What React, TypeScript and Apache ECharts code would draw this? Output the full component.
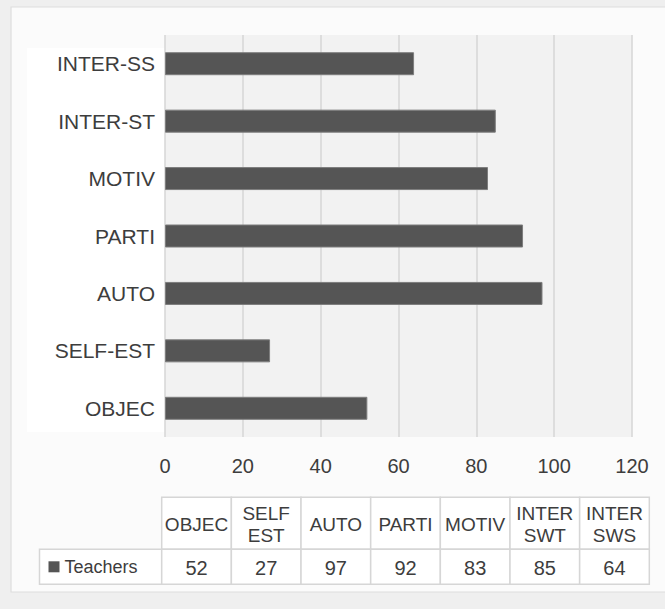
import React, { useEffect, useRef } from "react";
import * as echarts from "echarts";

const categories = ["OBJEC", "SELF-EST", "AUTO", "PARTI", "MOTIV", "INTER-ST", "INTER-SS"];
const teacherValues = [52, 27, 97, 92, 83, 85, 64];
const tableHeaders = ["OBJEC", "SELF\nEST", "AUTO", "PARTI", "MOTIV", "INTER\nSWT", "INTER\nSWS"];
const seriesName = "Teachers";
const xTicks = { min: 0, max: 120, interval: 20 };

const FONT = "'Liberation Sans', Arial, Helvetica, sans-serif";
const TEXT = "#3d3d3d";

export default function App() {
  const ref = useRef<HTMLDivElement>(null);
  useEffect(() => {
    if (!ref.current) return;
    const chart = echarts.init(ref.current, null, { renderer: "svg" });

    const tableX0 = 39.5;
    const labelW = 122.2;
    const cellW = 69.66;
    const hTop = 497.3;
    const hH = 52;
    const dH = 35;
    const cellsX = tableX0 + labelW;
    const border = "#d6d6d6";

    const graphics: any[] = [
      { type: "rect", z: -10, shape: { x: 0, y: 0, width: 665, height: 609 }, style: { fill: "#efefef" }, silent: true },
      { type: "rect", z: -9, shape: { x: 11, y: 7, width: 660, height: 585 }, style: { fill: "#fbfbfb", stroke: "#dedede", lineWidth: 1.2 }, silent: true },
      { type: "rect", z: -8, shape: { x: 27, y: 48, width: 138, height: 384 }, style: { fill: "#ffffff" }, silent: true },
    ];

    tableHeaders.forEach((h, i) => {
      const x = cellsX + i * cellW;
      graphics.push({
        type: "rect",
        shape: { x, y: hTop, width: cellW, height: hH },
        style: { fill: "#ffffff", stroke: border, lineWidth: 1.5 },
        silent: true,
      });
      graphics.push({
        type: "text",
        x: x + cellW / 2,
        y: hTop + hH / 2 + 1,
        style: {
          text: h,
          fill: TEXT,
          font: `19px ${FONT}`,
          lineHeight: 22,
          align: "center",
          verticalAlign: "middle",
        },
        silent: true,
      });
    });
    graphics.push({
      type: "rect",
      shape: { x: tableX0, y: hTop + hH, width: labelW, height: dH },
      style: { fill: "#ffffff", stroke: border, lineWidth: 1.5 },
      silent: true,
    });
    graphics.push({
      type: "rect",
      shape: { x: tableX0 + 9, y: hTop + hH + 12, width: 11, height: 11 },
      style: { fill: "#555555" },
      silent: true,
    });
    graphics.push({
      type: "text",
      x: tableX0 + 25,
      y: hTop + hH + dH / 2,
      style: { text: seriesName, fill: TEXT, font: `18px ${FONT}`, align: "left", verticalAlign: "middle" },
      silent: true,
    });
    teacherValues.forEach((v, i) => {
      const x = cellsX + i * cellW;
      graphics.push({
        type: "rect",
        shape: { x, y: hTop + hH, width: cellW, height: dH },
        style: { fill: "#ffffff", stroke: border, lineWidth: 1.5 },
        silent: true,
      });
      graphics.push({
        type: "text",
        x: x + cellW / 2,
        y: hTop + hH + dH / 2 + 1,
        style: { text: String(v), fill: TEXT, font: `20px ${FONT}`, align: "center", verticalAlign: "middle" },
        silent: true,
      });
    });

    chart.setOption({
      animation: false,
      backgroundColor: "#efefef",
      graphic: graphics,
      grid: {
        left: 165,
        right: 33,
        top: 35,
        bottom: 172,
        containLabel: false,
        show: true,
        backgroundColor: "#f2f2f2",
        borderWidth: 0,
      },
      xAxis: {
        type: "value",
        min: xTicks.min,
        max: xTicks.max,
        interval: xTicks.interval,
        axisLine: { show: false },
        axisTick: { show: false },
        splitLine: { show: true, lineStyle: { color: "#d6d6d6", width: 1.5 } },
        axisLabel: { fontSize: 20, color: TEXT, fontFamily: FONT, margin: 19 },
      },
      yAxis: {
        type: "category",
        data: categories,
        axisLine: { show: false },
        axisTick: { show: false },
        splitLine: { show: false },
        axisLabel: { fontSize: 21, color: TEXT, fontFamily: FONT, margin: 10 },
      },
      series: [
        {
          name: seriesName,
          type: "bar",
          data: teacherValues,
          barWidth: 23,
          itemStyle: { color: "#555555", borderColor: "#7d7d7d", borderWidth: 1 },
        },
      ],
    });
    return () => chart.dispose();
  }, []);
  return <div ref={ref} style={{ position: "fixed", left: 0, top: 0, width: 665, height: 609 }} />;
}
